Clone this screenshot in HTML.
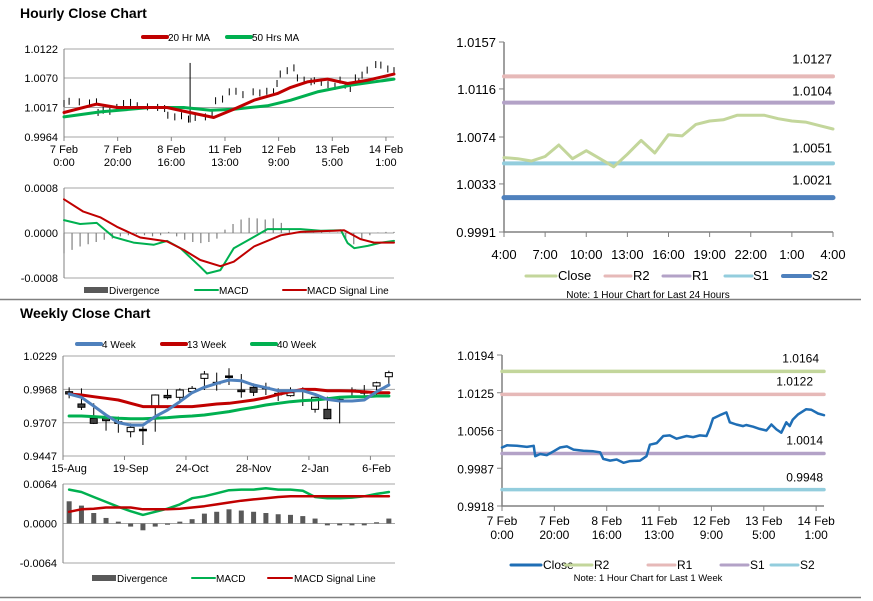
<!DOCTYPE html>
<html><head><meta charset="utf-8"><style>
body{margin:0;background:#fff;font-family:"Liberation Sans",Arial,sans-serif;}
svg{display:block}
</style></head><body>
<svg id="s" width="873" height="601" xmlns="http://www.w3.org/2000/svg" font-family="Liberation Sans, Arial, sans-serif">
<text x="20" y="18" font-size="14" font-weight="bold" fill="#000">Hourly Close Chart</text>
<text x="20" y="318" font-size="14" font-weight="bold" fill="#000">Weekly Close Chart</text>
<line x1="0" y1="299.5" x2="861" y2="299.5" stroke="#808080" stroke-width="1.5"/>
<line x1="0" y1="597.5" x2="861" y2="597.5" stroke="#808080" stroke-width="1.5"/>
</svg>
<script>
// ---------- DATA ----------
// hourly (one week) close: hour offsets and values
const closeHours=[0,1.9,5.7,9.5,12.1,12.7,14.6,17.1,19.7,22.2,24.8,27.3,31.1,34.9,37.5,38.7,41.3,43.8,46.4,48.9,52.7,55.2,56.5,59.1,61.6,64.1,66.7,70.5,73.0,75.6,78.1,79.4,80.6,83.2,85.7,87.0,89.5,92.1,93.3,95.9,98.4,101.0,102.9,104.8,106.7,108.6,109.9,111.1,113.0,116.2,118.1,120.7,123];
const closeValues=[1.0025,1.0029,1.0028,1.0026,1.0028,1.0009,1.0013,1.0011,1.0018,1.0025,1.0027,1.0021,1.0019,1.0018,1.0016,1.0004,1.0001,1.0003,0.9997,1.0000,1.0001,1.0009,1.0030,1.0033,1.0046,1.0047,1.0041,1.0046,1.0044,1.0047,1.0046,1.0061,1.0078,1.0084,1.0089,1.0071,1.0067,1.0064,1.0066,1.0063,1.0059,1.0056,1.0067,1.0058,1.0052,1.0071,1.0064,1.0076,1.0085,1.0095,1.0094,1.0087,1.0084];
const hourTickHours=[0,20,40,60,80,100,120];
const hourTickLabels=[["7 Feb","0:00"],["7 Feb","20:00"],["8 Feb","16:00"],["11 Feb","13:00"],["12 Feb","9:00"],["13 Feb","5:00"],["14 Feb","1:00"]];
const ma20Hours=[0,12.2,19.7,38.4,45.8,55.8,63.3,70.8,79.5,84.5,90.7,98.2,105.7,113.2,123];
const ma20Values=[1.0008,1.0023,1.0017,1.0017,1.0009,0.9999,1.0014,1.0030,1.0042,1.0053,1.0063,1.0068,1.0060,1.0066,1.0077];
const ma50Hours=[0,13.5,32.1,44.6,54.6,63.3,75.8,84.5,94.4,106.9,123];
const ma50Values=[1.0000,1.0009,1.0017,1.0017,1.0012,1.0014,1.0020,1.0030,1.0045,1.0057,1.0068];
const spikeHour=47, spikeHigh=1.0097;
const hMacdHours=[0,6,12.2,18.4,25.9,33.4,38.4,43.4,50.8,53.3,58.3,63.3,70.8,75.8,80.8,88.2,95.7,103.2,105.7,108.2,113.2,118.1,123];
const hMacdValues=[0.00023,0.00016,0.00018,-0.00007,-0.00017,-0.00021,-0.00014,-0.00027,-0.0006,-0.00072,-0.00066,-0.00027,-0.00007,0.00007,0.00007,0.00007,0.00004,0.00005,-0.00018,-0.00027,-0.00023,-0.00017,-0.00014];
const hSignalHours=[0,7.2,13.5,19.7,28.4,38.4,44.6,50.8,58.3,63.3,70.8,80.8,88.2,100.7,104.4,110.6,115.6,123];
const hSignalValues=[0.0006,0.00038,0.00028,0.00011,-0.00008,-0.00015,-0.0003,-0.00048,-0.00059,-0.00051,-0.00024,-0.00004,0.00002,0.00004,0.00005,-0.00011,-0.00017,-0.00017];
const hDivValues=[-0.00036,-0.00030,-0.00024,-0.00020,-0.00016,-0.00012,-0.00010,-0.00006,-0.00004,-0.00002,-0.00004,-0.00006,-0.00004,0.00002,-0.00006,-0.00012,-0.00016,-0.00018,-0.00016,-0.00010,0.00006,0.00016,0.00024,0.00027,0.00026,0.00024,0.00026,0.00018,0.00006,0.00002,0.00002,0.00001,0.00002,0.00001,0.00001,-0.00012,-0.00020,-0.00012,-0.00004,0.00001,0.00002,0.00002];
// 24h chart
const dayLabels=["4:00","7:00","10:00","13:00","16:00","19:00","22:00","1:00","4:00"];
const dayClose=[1.0056,1.0055,1.0053,1.0057,1.0067,1.0055,1.0062,1.0055,1.0048,1.0059,1.0071,1.0060,1.0076,1.0075,1.0085,1.0088,1.0089,1.0093,1.0093,1.0093,1.0090,1.0088,1.0087,1.0084,1.0081];
const dayLevels=[1.0127,1.0104,1.0051,1.0021];
const dayTicks=[0.9991,1.0033,1.0074,1.0116,1.0157];
const weekLevels=[1.0164,1.0122,1.0014,0.9948];
const weekTicks=[0.9918,0.9987,1.0056,1.0125,1.0194];
// weekly candles
const wkLabels=["15-Aug","19-Sep","24-Oct","28-Nov","2-Jan","6-Feb"];
const wkOpen=[0.9950,0.9854,0.9742,0.9742,0.9715,0.9637,0.9656,0.9833,0.9921,0.9906,0.9950,1.0054,1.0023,1.0073,0.9963,0.9984,0.9984,0.9937,0.9919,0.9963,0.9812,0.9812,0.9890,0.9963,0.9950,0.9994,1.0067];
const wkClose=[0.9932,0.9828,0.9702,0.9723,0.9702,0.9671,0.9656,0.9924,0.9903,0.9963,0.9976,1.0088,1.0023,1.0073,0.9950,0.9945,0.9984,0.9937,0.9942,0.9963,0.9906,0.9739,0.9890,0.9963,0.9950,1.0020,1.0099];
const wkHigh=[0.9984,0.9976,0.9859,0.9768,0.9755,0.9702,0.9676,0.9929,0.9968,0.9976,0.9994,1.0112,1.0099,1.0133,1.0088,1.0015,1.0020,0.9976,0.9984,0.9984,0.9911,0.9911,0.9898,0.9984,1.0002,1.0028,1.0114];
const wkLow=[0.9898,0.9807,0.9697,0.9645,0.9629,0.9593,0.9533,0.9637,0.9890,0.9872,0.9942,0.9963,0.9958,1.0002,0.9903,0.9916,0.9924,0.9877,0.9911,0.9838,0.9786,0.9734,0.9702,0.9911,0.9911,0.9911,1.0002];
const wk4=[0.9932,0.9906,0.9838,0.9768,0.9708,0.9689,0.9689,0.9755,0.9807,0.9872,0.9942,0.9984,1.0015,1.0041,1.0036,1.0002,0.9981,0.9958,0.9958,0.9958,0.9929,0.9890,0.9877,0.9877,0.9885,0.9950,1.0002];
const wk13=[0.9932,0.9924,0.9911,0.9898,0.9885,0.9859,0.9833,0.9833,0.9833,0.9833,0.9833,0.9843,0.9854,0.9859,0.9872,0.9885,0.9903,0.9929,0.9950,0.9968,0.9968,0.9958,0.9958,0.9955,0.9950,0.9942,0.9942];
const wk40=[0.9760,0.9760,0.9755,0.9749,0.9742,0.9739,0.9739,0.9742,0.9747,0.9755,0.9760,0.9768,0.9781,0.9794,0.9812,0.9828,0.9846,0.9859,0.9872,0.9880,0.9885,0.9895,0.9906,0.9911,0.9911,0.9916,0.9916];
const wkMacd=[0.0055,0.0051,0.0043,0.0035,0.0027,0.0020,0.0014,0.0019,0.0024,0.0031,0.0041,0.0044,0.0049,0.0054,0.0055,0.0055,0.0057,0.0055,0.0055,0.0053,0.0043,0.0041,0.0041,0.0042,0.0044,0.0048,0.0051];
const wkSignal=[0.0019,0.0023,0.0024,0.0026,0.0026,0.0026,0.0023,0.0023,0.0023,0.0024,0.0026,0.0028,0.0031,0.0034,0.0037,0.0039,0.0041,0.0043,0.0044,0.0044,0.0044,0.0044,0.0044,0.0044,0.0044,0.0044,0.0044];
const wkDiv=[0.0036,0.0029,0.0017,0.0009,0.0003,-0.0005,-0.0011,-0.0005,-0.0002,0.0003,0.0007,0.0016,0.0019,0.0023,0.0021,0.0019,0.0017,0.0015,0.0014,0.0012,0.0008,-0.0003,-0.0003,-0.0003,-0.0003,0.0002,0.0008];

// ---------- HELPERS ----------
const S=document.getElementById('s');const NS='http://www.w3.org/2000/svg';
function mk(tag,attrs,txt){const e=document.createElementNS(NS,tag);for(const k in attrs)e.setAttribute(k,attrs[k]);if(txt!==undefined)e.textContent=txt;S.appendChild(e);return e;}
function lin(d0,d1,r0,r1){return v=>r0+(v-d0)/(d1-d0)*(r1-r0);}
function pathOf(xs,ys){return xs.map((x,i)=>(i?'L':'M')+x.toFixed(1)+','+ys[i].toFixed(1)).join('');}
function line(d,stroke,w,name){const e=mk('path',{d:d,fill:'none',stroke:stroke,'stroke-width':w,'stroke-linejoin':'round','stroke-linecap':'round'});

return e;}
function txt(x,y,s,size,anchor,name){const e=mk('text',{x:x,y:y,'font-size':size,'text-anchor':anchor||'start',fill:'#000'},s);

return e;}
function legLine(x1,x2,y,col,w,label,lx,size,name){line('M'+x1+','+y+'L'+x2+','+y,col,w,name+'-swatch');txt(lx,y+4,label,size,'start',name);}

// ---------- HOURLY PRICE (top-left) ----------
(function(){
const X=lin(0,123,64,394),Y=lin(0.9964,1.0122,137,49);
[0.9964,1.0017,1.0070,1.0122].forEach((t,i)=>{const g=mk('line',{x1:64,x2:394,y1:Y(t),y2:Y(t),stroke:'#a6a6a6','stroke-width':1});


txt(58,Y(t)+4,t.toFixed(4),11,'end','hourly-y-tick');});
const ax=mk('line',{x1:64,x2:64,y1:49,y2:137,stroke:'#808080'});


hourTickHours.forEach((h,i)=>{const t=mk('line',{x1:X(h),x2:X(h),y1:137,y2:141,stroke:'#808080'});


txt(X(h),153,hourTickLabels[i][0],11,'middle','hourly-x-label');txt(X(h),166,hourTickLabels[i][1],11,'middle','hourly-x-label');});
closeValues.forEach((v,i)=>{const b=mk('line',{x1:X(closeHours[i]),x2:X(closeHours[i]),y1:Y(v)-3,y2:Y(v)+4,stroke:'#000','stroke-width':1});

});
const sp=mk('line',{x1:X(spikeHour),x2:X(spikeHour),y1:Y(spikeHigh),y2:Y(0.9990),stroke:'#000','stroke-width':1});


line(pathOf(ma50Hours.map(X),ma50Values.map(Y)),'#00b050',3,'ma50-line');
line(pathOf(ma20Hours.map(X),ma20Values.map(Y)),'#c00000',3,'ma20-line');
legLine(143,167,37,'#c00000',4,'20 Hr MA',168,10,'legend-20hr-ma');
legLine(227,251,37,'#00b050',4,'50 Hrs MA',252,10,'legend-50hrs-ma');
})();

// ---------- HOURLY MACD ----------
(function(){
const X=lin(0,123,64,394),Y=lin(-0.0008,0.0008,278,188);
[-0.0008,0,0.0008].forEach(t=>{const g=mk('line',{x1:64,x2:394,y1:Y(t),y2:Y(t),stroke:'#a6a6a6'});


txt(58,Y(t)+4,t.toFixed(4),11,'end','hmacd-y-tick');});
const ax=mk('line',{x1:64,x2:64,y1:188,y2:278,stroke:'#808080'});


hDivValues.forEach((v,i)=>{const x=X(i*3);const b=mk('line',{x1:x,x2:x,y1:Y(0),y2:Y(v),stroke:'#808080','stroke-width':1.2});

});
line(pathOf(hMacdHours.map(X),hMacdValues.map(Y)),'#00b050',2,'hmacd-line');
line(pathOf(hSignalHours.map(X),hSignalValues.map(Y)),'#c00000',2,'hmacd-signal-line');
const lb=mk('rect',{x:84,y:287,width:24,height:6,fill:'#595959'});


txt(109,294,'Divergence',10,'start','legend-divergence');
legLine(195,218,290,'#00b050',2,'MACD',219,10,'legend-macd');
legLine(283,306,290,'#c00000',2,'MACD Signal Line',307,10,'legend-macd-signal');
})();

// ---------- 24H LEVEL CHART (top-right) ----------
(function(){
const X=lin(0,24,504,833),Y=lin(0.9991,1.0157,232,42);
const ax=mk('path',{d:'M504,42L504,232L833,232',fill:'none',stroke:'#808080','stroke-width':1.5});


dayTicks.forEach(t=>{const k=mk('line',{x1:499,x2:504,y1:Y(t),y2:Y(t),stroke:'#808080'});


txt(496,Y(t)+5,t.toFixed(4),13,'end','day-y-label');});
dayLabels.forEach((l,i)=>{const x=X(i*3);const k=mk('line',{x1:x,x2:x,y1:232,y2:237,stroke:'#808080'});


txt(x,259,l,13,'middle','day-x-label');});
const cols=['#e6b9b8','#b3a2c7','#93cddd','#4f81bd'],ws=[4,4,4,5];
const names=['day-r2-line','day-r1-line','day-s1-line','day-s2-line'];
dayLevels.forEach((v,i)=>{line('M504,'+Y(v)+'L833,'+Y(v),cols[i],ws[i],names[i]);});
line(pathOf(dayClose.map((v,i)=>X(i)),dayClose.map(Y)),'#c3d69b',3,'day-close-line');
const lo=[13,7,11,13];
dayLevels.forEach((v,i)=>txt(832,Y(v)-lo[i],v.toFixed(4),13,'end','day-level-label'));
legLine(526,556,276,'#c3d69b',3,'Close',558,13,'legend-day-close');
legLine(605,631,276,'#e6b9b8',3,'R2',633,13,'legend-day-r2');
legLine(663,690,276,'#b3a2c7',3,'R1',692,13,'legend-day-r1');
legLine(725,752,276,'#93cddd',3,'S1',753,13,'legend-day-s1');
legLine(783,810,276,'#4f81bd',4,'S2',812,13,'legend-day-s2');
txt(648,298,'Note: 1 Hour Chart for Last 24 Hours',10,'middle','day-note');
})();

// ---------- WEEKLY CANDLES ----------
(function(){
const n=wkOpen.length,bw=332/n;const X=i=>63+bw*(i+0.5);const Y=lin(0.9447,1.0229,456,356);
[0.9447,0.9707,0.9968,1.0229].forEach(t=>{const g=mk('line',{x1:63,x2:395,y1:Y(t),y2:Y(t),stroke:'#a6a6a6'});


txt(57,Y(t)+4,t.toFixed(4),11,'end','weekly-y-tick');});
const ax=mk('line',{x1:63,x2:63,y1:356,y2:456,stroke:'#808080'});


wkLabels.forEach((l,i)=>{const x=X(i*5);const k=mk('line',{x1:x-bw/2,x2:x-bw/2,y1:456,y2:460,stroke:'#808080'});


txt(x,472,l,11,'middle','weekly-x-label');});
wkOpen.forEach((o,i)=>{const c=wkClose[i],x=X(i);
const w=mk('line',{x1:x,x2:x,y1:Y(wkHigh[i]),y2:Y(wkLow[i]),stroke:'#000','stroke-width':1});


const top=Y(Math.max(o,c)),h=Math.max(1.5,Math.abs(Y(o)-Y(c)));
const r=mk('rect',{x:x-3.5,y:top,width:7,height:h,fill:c>o?'#fff':(c<o?'#404040':'#000'),stroke:'#000','stroke-width':1});

});
const xs=wk4.map((v,i)=>X(i));
line(pathOf(xs,wk40.map(Y)),'#00b050',3,'ma40-week-line');
line(pathOf(xs,wk13.map(Y)),'#c00000',3,'ma13-week-line');
line(pathOf(xs,wk4.map(Y)),'#4f81bd',3,'ma4-week-line');
legLine(77,101,344,'#4f81bd',4,'4 Week',102,10,'legend-4-week');
legLine(162,186,344,'#c00000',4,'13 Week',187,10,'legend-13-week');
legLine(252,276,344,'#00b050',4,'40 Week',277,10,'legend-40-week');
})();

// ---------- WEEKLY MACD ----------
(function(){
const n=wkMacd.length,bw=332/n;const X=i=>63+bw*(i+0.5);const Y=lin(-0.0064,0.0064,563,484);
[-0.0064,0,0.0064].forEach(t=>{const g=mk('line',{x1:63,x2:395,y1:Y(t),y2:Y(t),stroke:'#a6a6a6'});


txt(57,Y(t)+4,t.toFixed(4),11,'end','wmacd-y-tick');});
const ax=mk('line',{x1:63,x2:63,y1:484,y2:563,stroke:'#808080'});


wkDiv.forEach((v,i)=>{const r=mk('rect',{x:X(i)-2.5,y:Math.min(Y(0),Y(v)),width:5,height:Math.abs(Y(v)-Y(0)),fill:'#595959'});

});
const xs=wkMacd.map((v,i)=>X(i));
line(pathOf(xs,wkMacd.map(Y)),'#00b050',2.5,'wmacd-line');
line(pathOf(xs,wkSignal.map(Y)),'#c00000',2.5,'wmacd-signal-line');
const lb=mk('rect',{x:92,y:575,width:24,height:6,fill:'#595959'});


txt(117,582,'Divergence',10,'start','legend-w-divergence');
legLine(192,215,578,'#00b050',2,'MACD',216,10,'legend-w-macd');
legLine(268,292,578,'#c00000',2,'MACD Signal Line',294,10,'legend-w-macd-signal');
})();

// ---------- WEEK LEVEL CHART (bottom-right) ----------
(function(){
const X=lin(0,123,502,824),Y=lin(0.9918,1.0194,506,355);
const ax=mk('path',{d:'M502,355L502,506L824,506',fill:'none',stroke:'#808080','stroke-width':1.5});


weekTicks.forEach(t=>{const k=mk('line',{x1:497,x2:502,y1:Y(t),y2:Y(t),stroke:'#808080'});


txt(494,Y(t)+5,t.toFixed(4),12,'end','week-y-label');});
hourTickHours.forEach((h,i)=>{const x=X(h);const k=mk('line',{x1:x,x2:x,y1:506,y2:511,stroke:'#808080'});


txt(x,525,hourTickLabels[i][0],12,'middle','week-x-label');txt(x,539,hourTickLabels[i][1],12,'middle','week-x-label');});
const cols=['#c3d69b','#e6b9b8','#b3a2c7','#93cddd'];
const names=['week-r2-line','week-r1-line','week-s1-line','week-s2-line'];
weekLevels.forEach((v,i)=>line('M502,'+Y(v)+'L824,'+Y(v),cols[i],3.5,names[i]));
line(pathOf(closeHours.map(X),closeValues.map(Y)),'#1f6eb5',2.5,'week-close-line');
const lx=[819,813,823,823],lo=[9,9,9,8];
weekLevels.forEach((v,i)=>txt(lx[i],Y(v)-lo[i],v.toFixed(4),12,'end','week-level-label'));
legLine(511,541,565,'#1f6eb5',3,'Close',543,12,'legend-week-close');
legLine(565,592,565,'#c3d69b',3,'R2',594,12,'legend-week-r2');
legLine(648,675,565,'#e6b9b8',3,'R1',677,12,'legend-week-r1');
legLine(721,748,565,'#b3a2c7',3,'S1',750,12,'legend-week-s1');
legLine(771,798,565,'#93cddd',3,'S2',800,12,'legend-week-s2');
txt(648,581,'Note: 1 Hour Chart for Last 1 Week',9.5,'middle','week-note');
})();
</script>
</body></html>
